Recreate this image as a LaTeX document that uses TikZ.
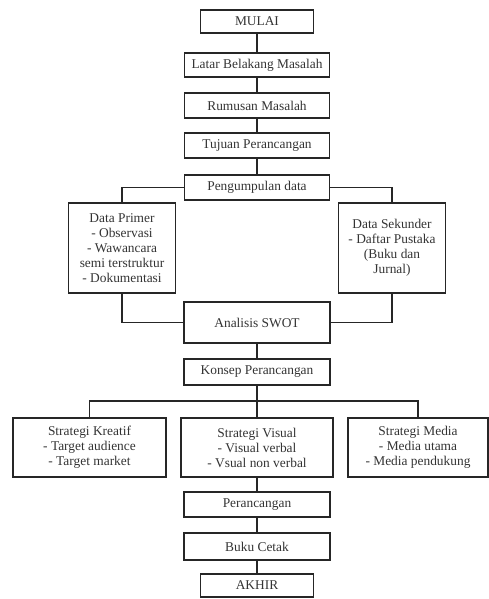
\documentclass[tikz,border=0pt]{standalone}
\usepackage{fontspec}
\setmainfont{Liberation Serif}
\begin{document}
\begin{tikzpicture}[x=1pt,y=-1pt,
  box/.style={draw=black!85, line width=1.3pt, inner sep=0pt, align=center,
    font=\fontsize{13.4}{15}\selectfont, text=black!80},
  conn/.style={draw=black!85, line width=1.3pt}]
\useasboundingbox (0,0) rectangle (489,599);
\node[box, minimum width=113pt, minimum height=23pt] (mulai) at (257,21.5) {MULAI};
\node[box, minimum width=145pt, minimum height=24pt] (latar) at (257,65) {Latar Belakang Masalah};
\node[box, minimum width=145pt, minimum height=25pt] (rumusan) at (257,105.5) {Rumusan Masalah};
\node[box, minimum width=145pt, minimum height=25pt] (tujuan) at (257,145.5) {Tujuan Perancangan};
\node[box, minimum width=145pt, minimum height=25pt] (kumpul) at (257,187.5) {Pengumpulan data};
\node[box, minimum width=107pt, minimum height=90pt] (primer) at (122,248) {Data Primer\\- Observasi\\- Wawancara\\semi terstruktur\\- Dokumentasi};
\node[box, minimum width=107pt, minimum height=90pt] (sekunder) at (392,248) {Data Sekunder\\- Daftar Pustaka\\(Buku dan\\Jurnal)};
\node[box, minimum width=146pt, minimum height=41pt] (swot) at (257,322.5) {Analisis SWOT};
\node[box, minimum width=146pt, minimum height=26pt] (konsep) at (257,372) {Konsep Perancangan};
\node[box, minimum width=153pt, minimum height=59pt] (kreatif) at (89.5,447.5) {Strategi Kreatif\\- Target audience\\- Target market};
\node[box, minimum width=152pt, minimum height=59pt] (visual) at (257,447.5) {Strategi Visual\\- Visual verbal\\- Vsual non verbal};
\node[box, minimum width=140pt, minimum height=59pt] (media) at (418,447.5) {Strategi Media\\- Media utama\\- Media pendukung};
\node[box, minimum width=146pt, minimum height=25pt] (peran) at (257,504.5) {Perancangan};
\node[box, minimum width=146pt, minimum height=27pt] (buku) at (257,546.5) {Buku Cetak};
\node[box, minimum width=113pt, minimum height=23pt] (akhir) at (257,585.5) {AKHIR};
\coordinate (hub) at (257,401);
\draw[conn] (mulai) -- (latar);
\draw[conn] (latar) -- (rumusan);
\draw[conn] (rumusan) -- (tujuan);
\draw[conn] (tujuan) -- (kumpul);
\draw[conn] (kumpul.west) -| (primer.north);
\draw[conn] (kumpul.east) -| (sekunder.north);
\draw[conn] (primer.south) |- (swot.west);
\draw[conn] (sekunder.south) |- (swot.east);
\draw[conn] (swot) -- (konsep);
\draw[conn] (konsep.south) -- (hub);
\draw[conn] (kreatif.north) |- (hub) -| (media.north);
\draw[conn] (hub) -- (visual.north);
\draw[conn] (visual) -- (peran);
\draw[conn] (peran) -- (buku);
\draw[conn] (buku) -- (akhir);
\end{tikzpicture}
\end{document}
